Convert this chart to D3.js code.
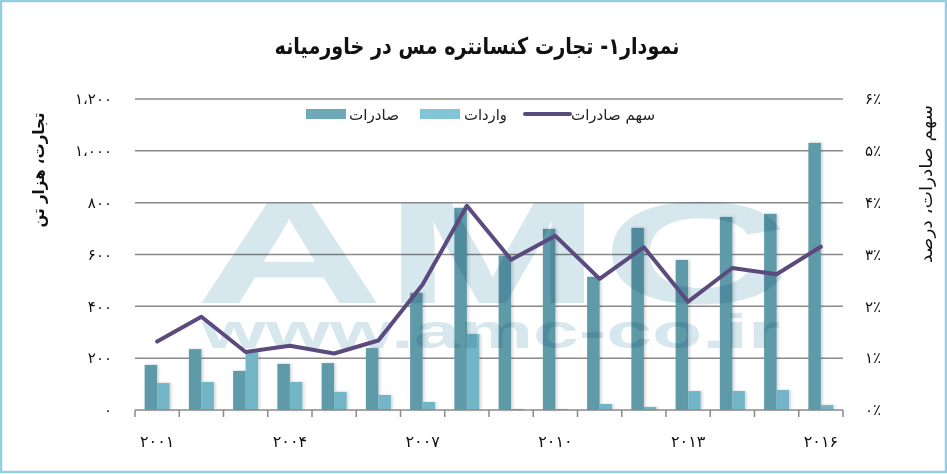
<!DOCTYPE html>
<html>
<head>
<meta charset="utf-8">
<script src="https://cdn.jsdelivr.net/npm/d3@7"></script>
<style>
  body { margin: 0; background: #fff; }
  svg { display: block; font-family: "DejaVu Sans", sans-serif; }
</style>
</head>
<body>
<div id="chart"></div>
<script>
// data
const years = [2001, 2002, 2003, 2004, 2005, 2006, 2007, 2008, 2009, 2010, 2011, 2012, 2013, 2014, 2015, 2016];
const exportsKt = [174, 235, 151, 178, 181, 239, 452, 780, 596, 699, 514, 703, 579, 745, 757, 1031];
const importsKt = [104, 108, 225, 108, 70, 58, 31, 293, 4, 4, 23, 12, 73, 73, 77, 19];
const exportShare = [1.32, 1.80, 1.12, 1.24, 1.09, 1.34, 2.42, 3.94, 2.90, 3.36, 2.53, 3.14, 2.09, 2.74, 2.62, 3.15];
const leftTicks = [0, 200, 400, 600, 800, 1000, 1200];
const rightTicks = [0, 1, 2, 3, 4, 5, 6];
const labelYears = [2001, 2004, 2007, 2010, 2013, 2016];
const seriesNames = ["صادرات", "واردات", "سهم صادرات"];
const titleText = "نمودار۱- تجارت کنسانتره مس در خاورمیانه";
const leftTitle = "تجارت، هزار تن";
const rightTitle = "سهم صادرات، درصد";

const W = 947, H = 474;
const m = { left: 135, right: 843, top: 99, bottom: 410 };
const colExp = "#5e9aa9", colImp = "#72b5c6", colLine = "#5b4a7e", colGrid = "#8a8a8a";

// persian digits
const fa = s => String(s).replace(/\d/g, d => "۰۱۲۳۴۵۶۷۸۹"[d]);

const svg = d3.select("#chart").append("svg")
  .attr("width", W).attr("height", H);

const defs = svg.append("defs");
defs.append("filter").attr("id", "shadow")
  .attr("x", "-30%").attr("y", "-5%").attr("width", "160%").attr("height", "110%")
  .append("feDropShadow")
  .attr("dx", 1.5).attr("dy", 0).attr("stdDeviation", 1.5)
  .attr("flood-color", "#000").attr("flood-opacity", 0.18);

// frame
svg.append("rect")
  .attr("x", 1).attr("y", 1).attr("width", W - 2).attr("height", H - 3)
  .attr("fill", "none").attr("stroke", "#93cfe0").attr("stroke-width", 2.5);

// scales
const x = d3.scaleBand().domain(years).range([m.left, m.right]).paddingInner(0.435).paddingOuter(0.2175);
const xs = d3.scaleBand().domain([0, 1]).range([0, x.bandwidth()]);
const yL = d3.scaleLinear().domain([0, 1200]).range([m.bottom, m.top]);
const yR = d3.scaleLinear().domain([0, 6]).range([m.bottom, m.top]);
const step = x.step();

// gridlines
svg.append("g").selectAll("line")
  .data(leftTicks.filter(d => d > 0))
  .join("line")
  .attr("x1", m.left).attr("x2", m.right)
  .attr("y1", d => yL(d)).attr("y2", d => yL(d))
  .attr("stroke", colGrid).attr("stroke-width", 1.5);

// bars
const bars = svg.append("g");
bars.selectAll(".exp").data(years).join("rect")
  .attr("class", "exp")
  .attr("x", d => x(d) + xs(0)).attr("width", xs.bandwidth())
  .attr("y", (d, i) => yL(exportsKt[i])).attr("height", (d, i) => m.bottom - yL(exportsKt[i]))
  .attr("fill", colExp).attr("filter", "url(#shadow)");
bars.selectAll(".imp").data(years).join("rect")
  .attr("class", "imp")
  .attr("x", d => x(d) + xs(1)).attr("width", xs.bandwidth())
  .attr("y", (d, i) => yL(importsKt[i])).attr("height", (d, i) => m.bottom - yL(importsKt[i]))
  .attr("fill", colImp).attr("filter", "url(#shadow)");

// watermark (one logo text, two lines)
const wm = svg.append("text")
  .style("mix-blend-mode", "multiply").attr("fill", "#d6e7ed")
  .attr("font-family", "Liberation Sans, Arial, sans-serif");
wm.append("tspan")
  .attr("x", 195).attr("y", 303)
  .attr("font-weight", 900).attr("font-size", 145)
  .attr("textLength", 595).attr("lengthAdjust", "spacingAndGlyphs")
  .text("AMC");
wm.append("tspan")
  .attr("x", 202).attr("y", 348)
  .attr("font-weight", 700).attr("font-size", 48)
  .attr("textLength", 578).attr("lengthAdjust", "spacingAndGlyphs")
  .text("www.amc-co.ir");

// x axis
const xAxis = svg.append("g");
xAxis.append("line")
  .attr("x1", m.left).attr("x2", m.right).attr("y1", m.bottom).attr("y2", m.bottom)
  .attr("stroke", colGrid).attr("stroke-width", 1.5);
xAxis.selectAll(".tk").data(d3.range(years.length + 1)).join("line")
  .attr("x1", i => m.left + i * step).attr("x2", i => m.left + i * step)
  .attr("y1", m.bottom).attr("y2", m.bottom + 7)
  .attr("stroke", colGrid).attr("stroke-width", 1.5);
xAxis.selectAll("text").data(labelYears).join("text")
  .attr("x", d => x(d) + x.bandwidth() / 2).attr("y", 447)
  .attr("text-anchor", "middle").attr("font-size", 16).attr("letter-spacing", 2.5).attr("fill", "#111")
  .text(d => fa(d));

// line
svg.append("path")
  .datum(exportShare)
  .attr("fill", "none").attr("stroke", colLine).attr("stroke-width", 4)
  .attr("stroke-linejoin", "round").attr("stroke-linecap", "round")
  .attr("d", d3.line().x((d, i) => x(years[i]) + x.bandwidth() / 2).y(d => yR(d)));

// left axis labels
svg.append("g").selectAll("text").data(leftTicks).join("text")
  .attr("x", 112).attr("y", d => yL(d)).attr("dy", "0.35em")
  .attr("text-anchor", "end").attr("font-size", 15).attr("letter-spacing", 2.5).attr("fill", "#111")
  .text(d => fa(d3.format(",")(d)).replace(",", "،"));

// right axis labels
svg.append("g").selectAll("text").data(rightTicks).join("text")
  .attr("x", 865).attr("y", d => yR(d)).attr("dy", "0.35em")
  .attr("text-anchor", "start").attr("font-size", 15).attr("letter-spacing", 1.5).attr("fill", "#111")
  .text(d => fa(d) + "٪");

// axis titles
svg.append("text")
  .attr("transform", "translate(44,170) rotate(-90)")
  .attr("text-anchor", "middle").attr("font-size", 16).attr("font-weight", "bold").attr("fill", "#111")
  .attr("textLength", 115).attr("lengthAdjust", "spacingAndGlyphs")
  .text(leftTitle);
svg.append("text")
  .attr("transform", "translate(932,184) rotate(-90)")
  .attr("text-anchor", "middle").attr("font-size", 17).attr("fill", "#111")
  .attr("textLength", 158).attr("lengthAdjust", "spacingAndGlyphs")
  .text(rightTitle);

// title
svg.append("text")
  .attr("x", 477).attr("y", 54)
  .attr("text-anchor", "middle").attr("font-size", 23).attr("font-weight", "bold").attr("fill", "#111")
  .attr("textLength", 405).attr("lengthAdjust", "spacingAndGlyphs")
  .text(titleText);

// legend
const legend = svg.append("g").attr("font-size", 15).attr("fill", "#222");
const legendItems = [
  { name: seriesNames[0], kind: "rect", color: "#6fa8b6", sx: 306, tx: 399, tw: 50 },
  { name: seriesNames[1], kind: "rect", color: "#82c5d6", sx: 420, tx: 507, tw: 43 },
  { name: seriesNames[2], kind: "line", color: colLine, sx: 525, tx: 655, tw: 84 }
];
legendItems.forEach(it => {
  if (it.kind === "rect") {
    legend.append("rect").attr("x", it.sx).attr("y", 109).attr("width", 40).attr("height", 10).attr("fill", it.color);
  } else {
    legend.append("line").attr("x1", it.sx).attr("x2", it.sx + 45).attr("y1", 114).attr("y2", 114)
      .attr("stroke", it.color).attr("stroke-width", 4).attr("stroke-linecap", "round");
  }
  legend.append("text").attr("x", it.tx - it.tw).attr("y", 120)
    .attr("textLength", it.tw).attr("lengthAdjust", "spacingAndGlyphs")
    .text(it.name);
});
</script>
</body>
</html>
